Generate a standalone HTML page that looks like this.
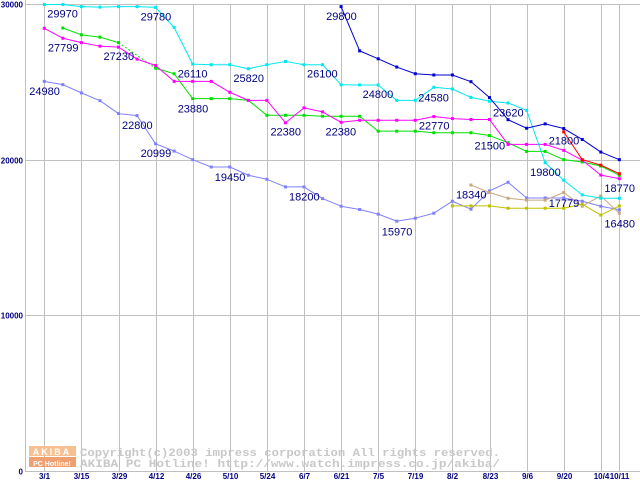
<!DOCTYPE html>
<html><head><meta charset="utf-8"><style>
html,body{margin:0;padding:0;background:#fff;}
svg{display:block;}
</style></head><body>
<svg id="chart" width="640" height="480" xmlns="http://www.w3.org/2000/svg" font-family="Liberation Sans, sans-serif"></svg>
<script>
const categories=['3/1','3/8','3/15','3/22','3/29','4/5','4/12','4/19','4/26','5/3','5/10','5/17','5/24','5/31','6/7','6/14','6/21','6/28','7/5','7/12','7/19','7/26','8/2','8/9','8/23','8/30','9/6','9/13','9/20','9/27','10/4','10/11'];
const tickLabels=['3/1','3/15','3/29','4/12','4/26','5/10','5/24','6/7','6/21','7/5','7/19','8/2','8/23','9/6','9/20','10/4','10/11'];
const tickIndex=[0,2,4,6,8,10,12,14,16,18,20,22,24,26,28,30,31];
const yTicks=[0,10000,20000,30000];
const N=null;
const seriesCyan=[29970,29970,29830,29800,29830,29830,29780,28490,26140,26100,26100,25840,26100,26310,26100,26100,24810,24800,24800,23810,23810,24650,24540,24000,23750,23640,23170,19810,18680,17740,17520,17520];
const seriesMagenta=[28440,27800,27520,27290,27230,26460,26050,25030,25030,25030,24330,23810,23810,22370,23330,23070,22400,22530,22530,22530,22530,22770,22640,22580,22580,20980,20980,20980,20600,19970,19010,18780];
const seriesGreen=[N,28460,28020,27870,27520,N,25880,25520,23920,23920,23920,23810,22850,22850,22850,22790,22790,22790,21830,21830,21830,21730,21730,21730,21550,21090,20530,20530,20000,19850,19590,19000];
const seriesPeri=[25030,24820,24290,23790,22960,22830,21020,20550,20000,19530,19530,19000,18740,18250,18250,17500,17010,16800,16500,16050,16240,16560,17330,16820,17990,18550,17540,17540,17540,17330,17010,16780];
const seriesTan=[N,N,N,N,N,N,N,N,N,N,N,N,N,N,N,N,N,N,N,N,N,N,N,18370,17890,17520,17400,17400,17890,17010,17670,16560];
const seriesOlive=[N,N,N,N,N,N,N,N,N,N,N,N,N,N,N,N,N,N,N,N,N,N,17030,17030,17030,16880,16880,16880,16880,17140,16440,17030];
const seriesBlue=[N,N,N,N,N,N,N,N,N,N,N,N,N,N,N,N,29830,26990,26480,25950,25520,25440,25440,25010,23990,22570,22020,22300,22000,21300,20490,20000];
const seriesRed=[N,N,N,N,N,N,N,N,N,N,N,N,N,N,N,N,N,N,N,N,N,N,N,N,N,N,N,N,21790,20000,19650,19100];
const labelTexts=['29970','27799','27230','29780','24980','26110','25820','26100','23880','22800','20999','19450','22380','18200','29800','22380','24800','24580','22770','15970','23620','21500','18340','21800','19800','17779','18770','16480'];
const labelIndex=[0,1,4,6,0,8,11,14,8,5,6,10,13,14,16,15,17,20,21,19,25,24,23,28,27,28,31,31];
const labelValue=[29970,27799,27230,29780,24980,26110,25820,26100,23880,22800,20999,19450,22380,18200,29800,22380,24800,24580,22770,15970,23620,21500,18340,21800,19800,17779,18770,16480];
const labelSide=['R','L','L','L','L','L','L','R','L','L','L','L','L','L','L','R','R','R','L','L','L','L','L','L','L','L','L','L'];

const svg=document.getElementById('chart');
const NS='http://www.w3.org/2000/svg';
const x0=44.3, dx=18.55, yZero=471, yScale=(471-4)/30000;
function xAt(i){return x0+dx*i;}
function yAt(v){return yZero-v*yScale;}
function mk(tag,attrs){const e=document.createElementNS(NS,tag);for(const k in attrs)e.setAttribute(k,attrs[k]);svg.appendChild(e);return e;}

for(let k=0;k<tickIndex.length;k++){
  const gx=Math.round(xAt(tickIndex[k]))+0.5;
  const g=mk('line',{x1:gx,x2:gx,y1:4,y2:471,stroke:'#c0c0c0','stroke-width':1});
  
  
  const t=mk('text',{x:gx,y:479,'text-anchor':'middle','font-size':8,'font-weight':'bold',fill:'#000080'});
  t.textContent=tickLabels[k];
  
  
}
for(const v of yTicks){
  const gy=Math.round(yAt(v))+0.5;
  const g=mk('line',{x1:25,x2:640,y1:gy,y2:gy,stroke:'#c0c0c0','stroke-width':1});
  
  
  const t=mk('text',{x:23,y:gy+3,'text-anchor':'end','font-size':8,'font-weight':'bold',fill:'#000080'});
  t.textContent=String(v);
  
  
}
const ax=mk('line',{x1:25.5,x2:25.5,y1:0,y2:471,stroke:'#c0c0c0','stroke-width':1});



mk('rect',{x:29,y:446,width:47,height:10,fill:'#f8c090'});
mk('rect',{x:29,y:457,width:47,height:10,fill:'#f0a070'});
const l1=mk('text',{x:52,y:455,'text-anchor':'middle','font-size':9,'font-weight':'bold',fill:'#fff','letter-spacing':2});
l1.textContent='AKIBA';


const l2=mk('text',{x:52,y:466,'text-anchor':'middle','font-size':7,'font-weight':'bold',fill:'#fff'});
l2.textContent='PC Hotline!';


const c1=mk('text',{x:80,y:456,'font-size':11,'font-weight':'bold','font-family':'Liberation Mono, monospace',fill:'#c8c8c8',textLength:420,lengthAdjust:'spacingAndGlyphs'});
c1.textContent='Copyright(c)2003 impress corporation All rights reserved.';


const c2=mk('text',{x:80,y:467,'font-size':11,'font-weight':'bold','font-family':'Liberation Mono, monospace',fill:'#c8c8c8',textLength:420,lengthAdjust:'spacingAndGlyphs'});
c2.textContent='AKIBA PC Hotline!  http://www.watch.impress.co.jp/akiba/';



function drawSeries(vals,color,name){
  let prev=-1;
  for(let i=0;i<vals.length;i++){
    if(vals[i]===null)continue;
    if(prev>=0){
      const s=mk('line',{x1:xAt(prev),y1:yAt(vals[prev]),x2:xAt(i),y2:yAt(vals[i]),stroke:color,'stroke-width':1});
      if(i-prev>1)s.setAttribute('stroke-dasharray','2,2');
      
      
    }
    prev=i;
  }
  for(let i=0;i<vals.length;i++){
    if(vals[i]===null)continue;
    const p=mk('rect',{x:xAt(i)-1.5,y:yAt(vals[i])-1.5,width:3,height:3,fill:color});
    
    
  }
}
drawSeries(seriesPeri,'#8080ff','series-periwinkle');
drawSeries(seriesTan,'#c8a880','series-tan');
drawSeries(seriesOlive,'#c0c000','series-olive');
drawSeries(seriesGreen,'#00e000','series-green');
drawSeries(seriesMagenta,'#ff00ff','series-magenta');
drawSeries(seriesCyan,'#00e8f0','series-cyan');
drawSeries(seriesBlue,'#0000d0','series-blue');
drawSeries(seriesRed,'#ff0000','series-red');

for(let k=0;k<labelTexts.length;k++){
  const ox=labelSide[k]==='R'?3:-15;
  const t=mk('text',{x:xAt(labelIndex[k])+ox,y:yAt(labelValue[k])+13,'font-size':11,fill:'#000080'});
  t.textContent=labelTexts[k];
  
  
}
</script>
</body></html>
